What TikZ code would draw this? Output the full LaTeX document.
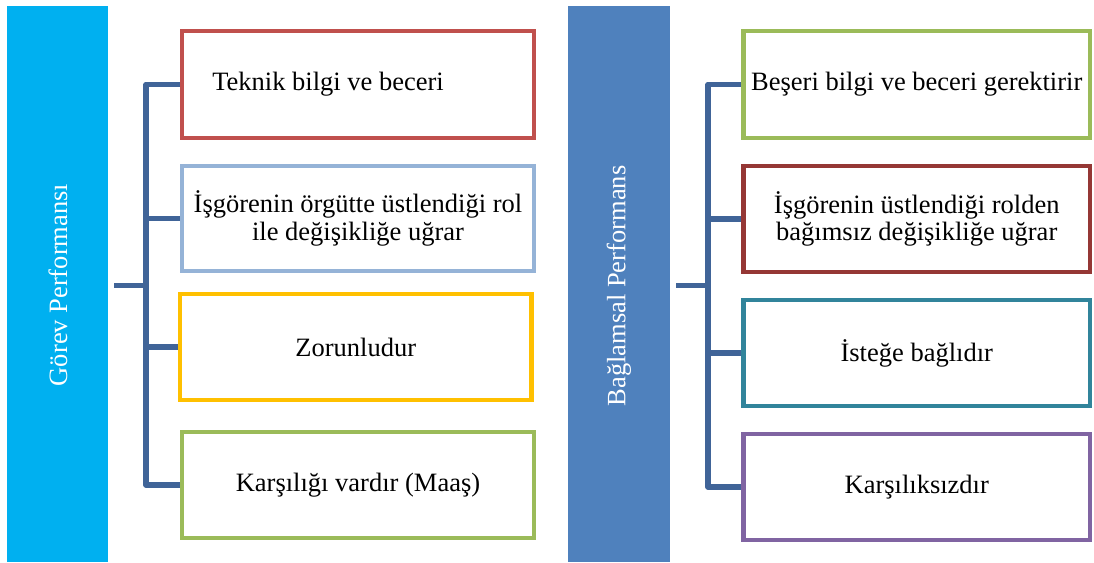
\documentclass[tikz,border=0pt]{standalone}
\usepackage{fontspec}
\setmainfont{Liberation Serif}
\definecolor{panelA}{RGB}{0,176,240}
\definecolor{panelB}{RGB}{79,129,189}
\definecolor{linkc}{RGB}{64,100,152}
\definecolor{cRed}{RGB}{192,80,77}
\definecolor{cLBlue}{RGB}{149,179,215}
\definecolor{cGold}{RGB}{255,192,0}
\definecolor{cGreen}{RGB}{155,187,89}
\definecolor{cMaroon}{RGB}{149,55,53}
\definecolor{cTeal}{RGB}{49,132,155}
\definecolor{cPurple}{RGB}{128,100,162}
\begin{document}
\begin{tikzpicture}[x=1pt,y=-1pt,
  panel/.style={rotate=90,text=white,inner sep=0pt,font=\fontsize{26.5}{27.5}\selectfont},
  itembox/.style={draw=#1,line width=4.6pt,fill=white,inner sep=0pt,
    minimum width=352pt,minimum height=107pt,align=center,
    font=\fontsize{26.5}{27.5}\selectfont},
  conn/.style={draw=linkc,line width=5.5pt,line join=round}]
\useasboundingbox (0,0) rectangle (1094,562);
% side panels
\fill[panelA] (7,6) rectangle (108,562);
\fill[panelB] (568,6) rectangle (670,562);
\node[panel] (gp) at (58,285) {Görev Performansı};
\node[panel] (bp) at (619,286) {Bağlamsal Performans};
% left column of items
\node[itembox=cRed] (l1) at (358,84.5) {Teknik bilgi ve beceri\hspace*{60pt}};
\node[itembox=cLBlue,minimum height=105pt] (l2) at (358,218.5) {İşgörenin örgütte üstlendiği rol\\ile değişikliğe uğrar};
\node[itembox=cGold,minimum width=351.5pt,minimum height=106pt] (l3) at (355.75,347) {Zorunludur};
\node[itembox=cGreen,minimum height=106pt] (l4) at (358,485) {Karşılığı vardır (Maaş)};
% right column of items
\node[itembox=cGreen,minimum width=346.5pt] (r1) at (916.75,84.5) {Beşeri bilgi ve beceri gerektirir};
\node[itembox=cMaroon,minimum width=346.5pt,minimum height=106pt] (r2) at (916.75,219) {İşgörenin üstlendiği rolden\\bağımsız değişikliğe uğrar};
\node[itembox=cTeal,minimum width=346.5pt,minimum height=106pt] (r3) at (916.75,353) {İsteğe bağlıdır};
\node[itembox=cPurple,minimum width=346.5pt,minimum height=106pt] (r4) at (916.75,487) {Karşılıksızdır};
% left connector tree
\coordinate (lhub) at (146,285.5);
\coordinate (lstub) at (114,285.5);
\draw[conn] (l1.west) -| (lhub) |- (l4.west);
\draw[conn] (lstub) -- (lhub);
\draw[conn] (l2.west) -- (l2.west -| lhub);
\draw[conn] (l3.west) -- (l3.west -| lhub);
% right connector tree
\coordinate (rhub) at (708,285.5);
\coordinate (rstub) at (676,285.5);
\draw[conn] (r1.west) -| (rhub) |- (r4.west);
\draw[conn] (rstub) -- (rhub);
\draw[conn] (r2.west) -- (r2.west -| rhub);
\draw[conn] (r3.west) -- (r3.west -| rhub);
\end{tikzpicture}
\end{document}
